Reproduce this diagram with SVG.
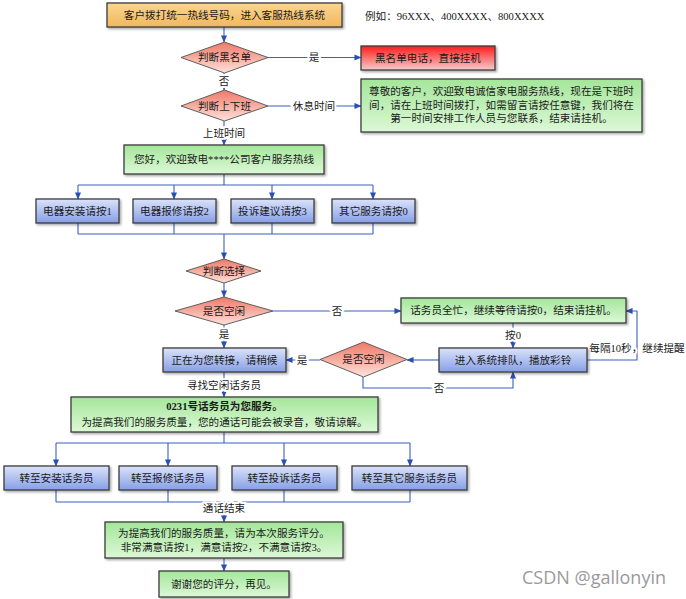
<svg xmlns="http://www.w3.org/2000/svg" width="686" height="599" viewBox="0 0 686 599">
<style>
text{font-family:"Liberation Serif","Noto Sans CJK SC",serif;font-size:10.6px;fill:#1a1a1a;text-anchor:middle;dominant-baseline:central}
.box{stroke:#3c3c3c;stroke-width:1.3;filter:url(#sh)}
.dia{stroke:#505050;stroke-width:0.9;fill:url(#gRed)}
.c{fill:none;stroke:#3a60c0;stroke-width:1.1}
.a{marker-end:url(#ar)}
.lb{stroke:#fff;stroke-width:4;paint-order:stroke}
</style>
<defs>
<filter id="sh" x="-10%" y="-20%" width="130%" height="160%"><feDropShadow dx="1.5" dy="1.5" stdDeviation="0.8" flood-color="#000" flood-opacity="0.35"/></filter>
<linearGradient id="gOr" x1="0" y1="0" x2="0" y2="1"><stop offset="0" stop-color="#fbd58e"/><stop offset="1" stop-color="#f0b860"/></linearGradient>
<linearGradient id="gGr" x1="0" y1="0" x2="0" y2="1"><stop offset="0" stop-color="#a4e69a"/><stop offset="1" stop-color="#dcf8d6"/></linearGradient>
<linearGradient id="gBl" x1="0" y1="0" x2="0" y2="1"><stop offset="0" stop-color="#dbe3fa"/><stop offset="1" stop-color="#869fe6"/></linearGradient>
<linearGradient id="gRed" x1="0" y1="0" x2="0" y2="1"><stop offset="0" stop-color="#ef7867"/><stop offset="1" stop-color="#fde2da"/></linearGradient>
<linearGradient id="gBk" x1="0" y1="0" x2="0" y2="1"><stop offset="0" stop-color="#ff1a1a"/><stop offset="1" stop-color="#f4cccc"/></linearGradient>
<marker id="ar" viewBox="0 0 8 8" refX="7.5" refY="4" markerWidth="7" markerHeight="7" markerUnits="userSpaceOnUse" orient="auto"><path d="M0,0.5 L8,4 L0,7.5 Z" fill="#2a50b0"/></marker>
</defs>

<g id="connectors">
<path class="c a" d="M224,27 V42"/>
<path class="c a" d="M268,57.5 H361"/>
<path class="c a" d="M224,73 V90"/>
<path class="c a" d="M268,106 H361"/>
<path class="c a" d="M224,121 V145"/>
<path class="c" d="M224,174 V185 M78,185 H373"/>
<path class="c a" d="M78,185 V199"/>
<path class="c a" d="M174,185 V199"/>
<path class="c a" d="M272,185 V199"/>
<path class="c a" d="M373,185 V199"/>
<path class="c" d="M78,223 V234 M174,223 V234 M272,223 V234 M373,223 V234 M78,234 H373"/>
<path class="c a" d="M224,234 V259"/>
<path class="c a" d="M224,283 V297"/>
<path class="c a" d="M273,311 H401"/>
<path class="c a" d="M224,325 V348"/>
<path class="c a" d="M513,323 V348"/>
<path class="c a" d="M587,360 H637 V311 H626"/>
<path class="c a" d="M439,360 H407"/>
<path class="c a" d="M320,360 H286"/>
<path class="c a" d="M363,377 V388 H513 V372"/>
<path class="c a" d="M224,372 V397"/>
<path class="c" d="M224,432 V443 M56,443 H410"/>
<path class="c a" d="M56,443 V466"/>
<path class="c a" d="M168,443 V466"/>
<path class="c a" d="M284,443 V466"/>
<path class="c a" d="M410,443 V466"/>
<path class="c" d="M56,490 V502 M168,490 V502 M284,490 V502 M410,490 V502 M56,502 H410"/>
<path class="c a" d="M224,502 V522"/>
<path class="c a" d="M224,558 V571"/>
<text class="lb" x="314" y="57.5">是</text>
<text class="lb" x="224" y="81">否</text>
<text class="lb" x="314" y="106">休息时间</text>
<text class="lb" x="224" y="133">上班时间</text>
<text class="lb" x="337" y="311">否</text>
<text class="lb" x="224" y="334">是</text>
<text class="lb" x="513" y="335">按0</text>
<text class="lb" x="637" y="348">每隔10秒，继续提醒</text>
<text class="lb" x="302" y="360">是</text>
<text class="lb" x="439" y="388">否</text>
<text class="lb" x="224" y="385">寻找空闲话务员</text>
<text class="lb" x="224" y="508">通话结束</text>
</g>

<g id="start"><rect class="box" x="107" y="3" width="235" height="24" fill="url(#gOr)"/><text x="224.5" y="15.5">客户拨打统一热线号码，进入客服热线系统</text></g>
<g id="example"><text x="365" y="16" style="text-anchor:start">例如：96XXX、400XXXX、800XXXX</text></g>
<g id="d-blacklist"><path class="dia" d="M224.5,42 L268,57.5 L224.5,73 L181,57.5 Z"/><text x="224.5" y="57.5">判断黑名单</text></g>
<g id="blacklist"><rect class="box" x="361" y="46" width="134" height="24" fill="url(#gBk)"/><text x="428" y="58">黑名单电话，直接挂机</text></g>
<g id="d-worktime"><path class="dia" d="M224.5,90 L268,106 L224.5,121 L181,106 Z"/><text x="224.5" y="106">判断上下班</text></g>
<g id="offwork"><rect class="box" x="361" y="79" width="281" height="53" fill="url(#gGr)"/>
<text x="501.5" y="91.5">尊敬的客户，欢迎致电诚信家电服务热线，现在是下班时</text>
<text x="501.5" y="105">间，请在上班时间拨打，如需留言请按任意键，我们将在</text>
<text x="501.5" y="118.5">第一时间安排工作人员与您联系，结束请挂机。</text></g>
<g id="welcome"><rect class="box" x="124" y="145" width="200" height="29" fill="url(#gGr)"/><text x="224" y="159.5">您好，欢迎致电****公司客户服务热线</text></g>
<g id="opt1"><rect class="box" x="36" y="199" width="83" height="24" fill="url(#gBl)"/><text x="77.5" y="211">电器安装请按1</text></g>
<g id="opt2"><rect class="box" x="133" y="199" width="83" height="24" fill="url(#gBl)"/><text x="174.5" y="211">电器报修请按2</text></g>
<g id="opt3"><rect class="box" x="231" y="199" width="83" height="24" fill="url(#gBl)"/><text x="272.5" y="211">投诉建议请按3</text></g>
<g id="opt0"><rect class="box" x="332" y="199" width="83" height="24" fill="url(#gBl)"/><text x="373.5" y="211">其它服务请按0</text></g>
<g id="d-choice"><path class="dia" d="M224,259 L261,271 L224,283 L186,271 Z"/><text x="224" y="271">判断选择</text></g>
<g id="d-idle1"><path class="dia" d="M224,297 L273,311 L224,325 L175,311 Z"/><text x="224" y="311">是否空闲</text></g>
<g id="busy"><rect class="box" x="401" y="298" width="225" height="25" fill="url(#gGr)"/><text x="513.5" y="310.5">话务员全忙，继续等待请按0，结束请挂机。</text></g>
<g id="queue"><rect class="box" x="439" y="348" width="148" height="24" fill="url(#gBl)"/><text x="513" y="360">进入系统排队，播放彩铃</text></g>
<g id="d-idle2"><path class="dia" d="M363.5,342 L407,359.5 L363.5,377 L320,359.5 Z"/><text x="363.5" y="359.5">是否空闲</text></g>
<g id="transfer"><rect class="box" x="163" y="348" width="123" height="24" fill="url(#gBl)"/><text x="224.5" y="360">正在为您转接，请稍候</text></g>
<g id="agent"><rect class="box" x="71" y="397" width="307" height="35" fill="url(#gGr)"/>
<text x="224.5" y="406.5" font-weight="bold">0231号话务员为您服务。</text>
<text x="224.5" y="422">为提高我们的服务质量，您的通话可能会被录音，敬请谅解。</text></g>
<g id="to1"><rect class="box" x="4" y="466" width="105" height="24" fill="url(#gBl)"/><text x="56.5" y="478">转至安装话务员</text></g>
<g id="to2"><rect class="box" x="119" y="466" width="98" height="24" fill="url(#gBl)"/><text x="168" y="478">转至报修话务员</text></g>
<g id="to3"><rect class="box" x="232" y="466" width="105" height="24" fill="url(#gBl)"/><text x="284.5" y="478">转至投诉话务员</text></g>
<g id="to0"><rect class="box" x="352" y="466" width="115" height="24" fill="url(#gBl)"/><text x="409.5" y="478">转至其它服务话务员</text></g>
<g id="rating"><rect class="box" x="105" y="522" width="238" height="36" fill="url(#gGr)"/>
<text x="224" y="533">为提高我们的服务质量，请为本次服务评分。</text>
<text x="224" y="547">非常满意请按1，满意请按2，不满意请按3。</text></g>
<g id="bye"><rect class="box" x="159" y="571" width="130" height="26" fill="url(#gGr)"/><text x="224" y="584">谢谢您的评分，再见。</text></g>
<text x="594" y="577" style="font-family:'Open Sans','Noto Sans',sans-serif;font-size:18px;fill:#9a9a9a">CSDN @gallonyin</text>
</svg>
